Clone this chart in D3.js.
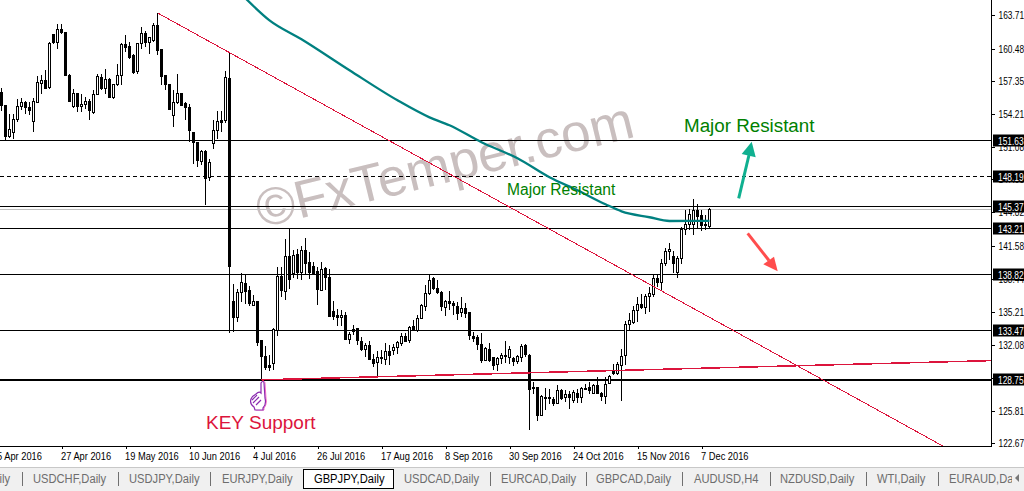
<!DOCTYPE html>
<html><head><meta charset="utf-8">
<script src="https://cdn.jsdelivr.net/npm/d3@7/dist/d3.min.js"></script>
<style>html,body{margin:0;padding:0;background:#fff;overflow:hidden}svg{display:block}</style>
</head><body><svg id="c" width="1024" height="491"></svg>
<script>
const opens=[156.26,154.98,152.01,152.39,153.67,154.88,155.30,154.82,153.45,155.30,
157.12,157.44,156.70,161.81,161.04,162.29,162.00,157.88,154.88,156.16,
154.88,155.04,155.43,154.31,156.06,157.69,156.64,157.53,155.84,156.99,
157.88,160.89,160.69,159.83,158.24,160.95,161.91,161.04,161.27,162.67,
160.37,157.88,157.05,154.08,155.27,156.16,155.20,154.82,152.42,151.47,
149.71,150.64,148.11,151.43,152.65,153.61,153.54,157.60,136.21,134.67,
137.10,137.96,137.32,135.82,136.27,132.47,131.00,130.14,130.30,133.49,
138.60,137.26,140.58,138.92,140.77,139.08,141.16,140.01,139.56,139.08,
137.32,139.40,138.54,135.34,134.93,134.71,134.93,132.60,133.56,133.65,
132.44,131.70,132.06,130.72,130.36,130.81,130.75,131.48,131.51,131.80,
132.28,132.92,132.47,133.81,133.49,134.61,135.79,136.94,138.44,137.48,
137.07,135.73,136.27,136.05,135.79,135.15,135.57,135.15,132.92,132.79,
132.15,130.62,131.67,130.87,130.20,130.78,131.06,130.94,130.78,130.46,
130.87,132.00,131.10,128.06,128.00,125.35,127.00,127.04,126.91,126.47,
127.74,127.00,127.36,126.79,127.42,127.04,127.87,128.00,127.42,128.19,
127.42,127.10,128.32,129.60,129.34,130.20,131.03,134.03,134.29,135.41,
135.98,135.66,136.68,136.94,138.44,138.06,139.88,141.06,140.58,138.98,
140.36,143.13,143.61,143.61,144.99,144.51,143.64,143.49];
const highs=[156.73,155.04,154.24,154.24,155.68,155.78,155.46,155.36,155.78,157.82,
157.92,158.39,161.11,161.91,162.80,162.86,162.07,158.08,156.64,156.20,
156.16,155.84,155.68,156.48,158.01,158.08,158.55,157.69,157.12,159.03,
161.01,161.75,161.11,159.99,161.05,162.55,162.16,161.59,162.93,163.89,
160.47,157.95,157.12,156.48,158.01,156.26,155.36,155.14,152.42,151.47,
150.73,150.73,149.93,153.61,154.50,154.50,158.30,160.12,137.90,137.48,
139.02,138.76,137.71,136.85,136.27,132.60,131.96,131.10,133.75,139.56,
139.56,142.27,143.23,141.16,141.32,141.54,142.37,141.00,140.04,139.56,
140.04,139.56,139.40,136.30,135.50,135.47,135.25,133.33,133.97,133.75,
132.85,132.31,132.47,131.26,131.51,131.58,132.31,132.06,132.15,132.47,
133.27,133.24,133.88,134.45,134.93,136.05,137.80,138.76,138.60,138.28,
137.26,136.43,137.26,136.27,136.21,136.68,136.14,135.22,133.33,133.01,
133.27,131.89,132.31,130.94,130.94,131.32,132.47,131.96,130.94,131.10,
132.21,132.15,131.26,128.54,128.06,127.27,128.00,127.90,127.10,128.22,
127.90,127.74,127.68,127.74,127.90,128.06,128.32,128.54,128.38,129.02,
127.58,129.02,129.18,130.30,130.46,131.74,134.35,135.15,135.79,136.68,
136.94,136.94,137.64,138.92,138.76,140.36,141.38,141.86,141.06,140.58,
143.39,144.99,145.15,146.10,145.62,145.05,144.51,145.21];
const lows=[154.50,151.69,151.94,151.85,153.45,154.56,154.24,154.08,152.49,155.27,
156.16,156.64,156.64,160.95,160.47,161.91,157.82,155.36,154.82,154.40,
154.40,154.72,153.67,154.24,156.00,156.48,156.16,155.80,155.62,156.93,
156.96,160.15,159.51,158.08,158.01,160.47,160.63,159.99,161.11,159.83,
156.96,156.54,154.56,152.97,155.20,154.95,153.61,151.53,149.45,149.13,
149.29,145.46,147.79,150.89,151.79,152.49,153.35,133.21,133.33,134.29,
136.21,136.05,135.79,135.79,131.96,128.86,129.66,129.60,129.66,132.92,
136.69,136.43,137.48,138.54,138.44,138.35,138.76,138.44,138.76,135.89,
137.23,137.39,134.83,134.45,133.88,133.88,132.60,132.15,133.01,132.06,
131.48,130.94,130.62,129.98,129.09,130.30,130.14,130.14,131.10,131.26,
131.96,132.38,132.31,133.43,133.33,134.55,135.34,136.85,137.32,136.94,
135.34,134.83,135.41,135.00,134.51,134.77,134.70,132.53,132.37,131.58,
130.36,130.55,130.46,129.66,129.60,130.30,130.36,130.23,130.11,130.23,
130.43,130.94,123.98,127.42,124.77,125.25,125.83,126.47,126.21,126.40,
126.79,126.63,125.99,126.53,126.53,126.53,127.81,127.36,127.36,127.36,
126.72,126.40,128.32,129.18,129.18,126.72,130.14,133.49,134.07,134.29,
135.57,135.09,135.25,136.68,137.64,137.32,139.62,140.20,138.98,138.50,
139.88,142.59,143.07,142.59,143.23,143.01,143.13,143.23];
const closes=[154.98,152.01,152.71,153.67,154.88,155.30,154.82,154.50,155.36,157.21,
157.44,156.70,160.95,161.01,162.29,161.97,157.88,155.43,156.16,154.88,
155.11,155.36,154.56,156.06,157.82,156.64,157.53,155.84,157.05,157.88,
160.89,160.63,159.67,158.24,160.95,161.91,161.04,161.52,162.67,160.31,
157.82,157.02,154.66,155.30,156.16,155.04,154.82,152.58,151.43,149.71,
150.64,148.08,149.55,152.65,153.51,153.41,157.69,139.62,134.67,137.10,
138.06,137.23,136.11,136.24,132.38,130.94,129.98,129.98,133.56,138.67,
137.26,140.58,138.38,140.68,139.02,141.16,139.94,139.08,138.92,137.32,
139.30,138.51,134.83,134.83,134.71,134.93,132.60,133.11,133.33,132.47,
131.67,132.06,130.75,130.36,130.87,130.91,131.48,131.07,131.83,132.31,
132.92,132.47,133.75,133.49,134.61,135.89,137.01,138.22,137.48,137.07,
135.73,136.27,136.11,135.82,135.15,135.57,135.09,132.92,132.76,132.12,
130.62,131.74,130.62,130.07,130.78,131.10,130.94,131.67,130.46,130.94,
131.96,131.10,127.84,128.00,125.35,127.17,127.07,126.98,126.53,127.74,
127.00,127.33,127.10,127.55,127.04,127.90,127.94,127.68,128.19,127.42,
127.10,128.26,129.02,129.34,130.23,131.03,134.03,134.40,135.41,135.98,
135.66,136.75,137.00,138.44,138.03,139.88,141.06,141.25,139.88,140.36,
143.17,143.61,144.60,144.99,144.44,143.55,143.52,145.08];

const maBars=[61,67,75,87,99,107,112,120,129,137,144,151,155,162,167,177];
const maValues=[165.29,163.18,161.37,158.40,155.52,153.89,153.13,151.50,149.97,148.15,146.90,145.56,144.89,144.32,143.96,143.98];

const yTicks=[163.71,160.48,157.35,154.21,151.08,147.95,144.82,141.58,138.44,135.21,132.08,128.95,125.81,122.67];
const xTickBars=[-1,15,31,47,63,79,95,111,127,143,159,175];
const xTickLabels=["5 Apr 2016","27 Apr 2016","19 May 2016","10 Jun 2016","4 Jul 2016","26 Jul 2016","17 Aug 2016","8 Sep 2016","30 Sep 2016","24 Oct 2016","15 Nov 2016","7 Dec 2016"];

const solidLevels=[151.63,145.37,143.21,138.82,133.47];
const dashedLevels=[148.19];
const thickLevels=[128.75];
const bidLevel=[145.04];
const tagLevels=[151.63,148.19,145.37,143.21,138.82,133.47,128.75];

const trendDown={bars:[39,235.9],prices:[163.89,122.29]};
const trendFlat={bars:[65,247.6],prices:[128.75,130.59]};

const tabNames=["USDCHF,Daily","USDJPY,Daily","EURJPY,Daily","GBPJPY,Daily","USDCAD,Daily","EURCAD,Daily","GBPCAD,Daily","AUDUSD,H4","NZDUSD,Daily","WTI,Daily","EURAUD,Da"];
const tabStarts=[33,129,222,314,404,501,596,694,780,877,949];
const tabSeps=[22.5,118.5,210.5,490.5,586.5,682.5,770.5,866.5,938.5];

const svg=d3.select("#c");
const x=d3.scaleLinear().domain([0,177]).range([1.5,709.5]);
const y=d3.scaleLinear().domain([122.67,163.71]).range([443.3,14.8]);
const W=992,B=446;
const snap=v=>Math.round(v-0.5)+0.5;
const squeeze=(sel,f)=>sel.each(function(){this.setAttribute("textLength",this.getComputedTextLength()*f);this.setAttribute("lengthAdjust","spacingAndGlyphs");});

svg.append("defs").append("clipPath").attr("id","plot").append("rect").attr("width",W).attr("height",B);
svg.append("rect").attr("width",1024).attr("height",491).attr("fill","#fff");
const plot=svg.append("g").attr("clip-path","url(#plot)");

// watermark
plot.append("text").attr("transform","translate(261,228) rotate(-13.7)")
  .attr("font-family","Liberation Sans").attr("font-size",53).attr("fill","#c9bfbf").text("©FxTemper.com");

// levels
function hl(vals,w,dash,col,f){plot.selectAll(null).data(vals).enter().append("line")
  .attr("x1",0).attr("x2",W).attr("y1",d=>f(y(d))).attr("y2",d=>f(y(d)))
  .attr("stroke",col).attr("stroke-width",w).attr("stroke-dasharray",dash).attr("shape-rendering","crispEdges");}
hl(bidLevel,1,null,"#c0c0c0",snap);
hl(solidLevels,1,null,"#000",snap);
hl(dashedLevels,1,"4 3","#000",snap);
hl(thickLevels,2,null,"#000",Math.round);

// candles
const bars=d3.range(opens.length);
const g=plot.append("g").attr("shape-rendering","crispEdges");
g.selectAll("line").data(bars).enter().append("line")
  .attr("x1",d=>x(d)).attr("x2",d=>x(d)).attr("y1",d=>y(highs[d])).attr("y2",d=>y(lows[d]))
  .attr("stroke","#000").attr("stroke-width",1);
g.selectAll("rect").data(bars).enter().append("rect")
  .attr("x",d=>x(d)-1).attr("width",2)
  .attr("y",d=>snap(y(Math.max(opens[d],closes[d]))))
  .attr("height",d=>Math.max(1,Math.round(Math.abs(y(opens[d])-y(closes[d])))))
  .attr("fill",d=>closes[d]>=opens[d]?"#fff":"#000").attr("stroke","#000").attr("stroke-width",1);

// trendlines
const tl=d3.line().x(d=>x(d[0])).y(d=>y(d[1]));
plot.append("path").attr("d",tl(d3.zip(trendDown.bars,trendDown.prices))).attr("fill","none").attr("stroke","#dc143c").attr("stroke-width",1).attr("shape-rendering","crispEdges");
plot.append("path").attr("d",tl(d3.zip(trendFlat.bars,trendFlat.prices))).attr("fill","none").attr("stroke","#dc143c").attr("stroke-width",1.5).attr("shape-rendering","crispEdges");

// moving average
plot.append("path").attr("d",d3.line().x(d=>x(d[0])).y(d=>y(d[1])).curve(d3.curveMonotoneX)(d3.zip(maBars,maValues)))
  .attr("fill","none").attr("stroke","#008080").attr("stroke-width",2.3);

// annotations
const ann=(t,px,py,fs,col)=>plot.append("text").attr("x",px).attr("y",py).attr("font-family","Liberation Sans").attr("font-size",fs).attr("fill",col).text(t);
ann("Major Resistant",507,195,15.6,"#008000");
ann("Major Resistant",684,132,18.8,"#008000");
ann("KEY Support",206,429,19,"#dc143c");

// arrows
function arrow(col,t,tip,b1,b2,neck){
  plot.append("line").attr("x1",t[0]).attr("y1",t[1]).attr("x2",neck[0]).attr("y2",neck[1]).attr("stroke",col).attr("stroke-width",3);
  plot.append("path").attr("d",d3.line()([tip,b1,b2])+"Z").attr("fill",col);
}
arrow("#10b090",[738.7,198.3],[751.7,141.7],[741.7,154],[755.7,157.3],[749,155]);
arrow("#ff4d4d",[747.7,233.3],[777.7,271.3],[763.3,264.3],[774,256.7],[769,260.5]);

// hand icon
const handD="M261 383 C262 381 264 381 264 383 L265 398 C266 402 265 406 263 408 L263 410 L255 410 L254 407 C251 405 250 402 251 399 C252 396 254 395 256 394 C258 392 260 392 261 393 Z";
plot.append("path").attr("d",handD).attr("transform","translate(1,0)").attr("fill","none").attr("stroke","#ff70c8").attr("stroke-width",1);
plot.append("path").attr("d",handD).attr("fill","#fff").attr("stroke","#8a2bb0").attr("stroke-width",1.2);
plot.append("path").attr("d","M252 400 L257 395 M253 403 L259 397 M256 405 L261 400").attr("stroke","#8a2bb0").attr("stroke-width",1.2).attr("fill","none");

// axes frame
const af=svg.append("g").attr("shape-rendering","crispEdges");
af.append("line").attr("x1",991.5).attr("x2",991.5).attr("y1",0).attr("y2",446.5).attr("stroke","#000");
af.append("line").attr("x1",0).attr("x2",992).attr("y1",446.5).attr("y2",446.5).attr("stroke","#000");

const tf="Liberation Sans";
// y axis
const ya=svg.append("g").attr("transform","translate(991.5,0)").call(d3.axisRight(y).tickValues(yTicks).tickSize(3).tickPadding(4).tickFormat(d3.format(".2f")));
ya.select(".domain").remove();
ya.selectAll("line").attr("stroke","#000").attr("shape-rendering","crispEdges");
ya.selectAll("text").attr("font-family",tf).attr("font-size",11).attr("fill","#000").call(squeeze,0.76);
// tags
const tg=svg.append("g").selectAll("g").data(tagLevels).enter().append("g").attr("transform",d=>`translate(0,${snap(y(d))})`);
tg.append("rect").attr("x",993).attr("y",-6).attr("width",31).attr("height",12).attr("fill","#000");
tg.append("text").attr("x",998).attr("y",4).attr("font-family",tf).attr("font-size",11).attr("fill","#fff").text(d=>d.toFixed(2)).call(squeeze,0.76);
// x axis
const xa=svg.append("g").attr("transform","translate(0,446)").call(d3.axisBottom(x).tickValues(xTickBars).tickSize(3).tickFormat((d,i)=>xTickLabels[i]));
xa.select(".domain").remove();
xa.selectAll("line").attr("stroke","#000").attr("shape-rendering","crispEdges");
xa.selectAll("text").attr("text-anchor","start").attr("x",-1).attr("y",6).attr("font-family",tf).attr("font-size",11).attr("fill","#000").call(squeeze,0.845);

// tab bar
const tb=svg.append("g");
tb.append("rect").attr("y",468).attr("width",1024).attr("height",23).attr("fill","#f0f0f0");
tb.append("line").attr("x1",0).attr("x2",1024).attr("y1",467.5).attr("y2",467.5).attr("stroke","#c8c8c8").attr("shape-rendering","crispEdges");
tb.append("rect").attr("x",303).attr("y",469.5).attr("width",90).attr("height",18.5).attr("fill","#fff").attr("stroke","#000").attr("shape-rendering","crispEdges");
tb.selectAll("line.s").data(tabSeps).enter().append("line").attr("class","s").attr("x1",d=>d).attr("x2",d=>d).attr("y1",472).attr("y2",486).attr("stroke","#707070").attr("shape-rendering","crispEdges");
tb.append("text").attr("x",10).attr("y",483).attr("text-anchor","end").attr("font-family","Liberation Sans").attr("font-size",12).attr("fill","#6d6d6d").text("AUDCHF,Daily").call(squeeze,0.93);
tb.selectAll("text.t").data(tabNames).enter().append("text").attr("class","t").attr("x",(d,i)=>tabStarts[i]).attr("y",483)
  .attr("font-family","Liberation Sans").attr("font-size",12).attr("fill",d=>d.startsWith("GBPJPY")?"#000":"#6d6d6d").text(d=>d).call(squeeze,0.93);
tb.append("rect").attr("x",1012).attr("y",469).attr("width",12).attr("height",20).attr("fill","#f0f0f0");
tb.append("path").attr("d","M1019 474 L1015 478 L1019 482 Z").attr("fill","#777");
</script></body></html>
